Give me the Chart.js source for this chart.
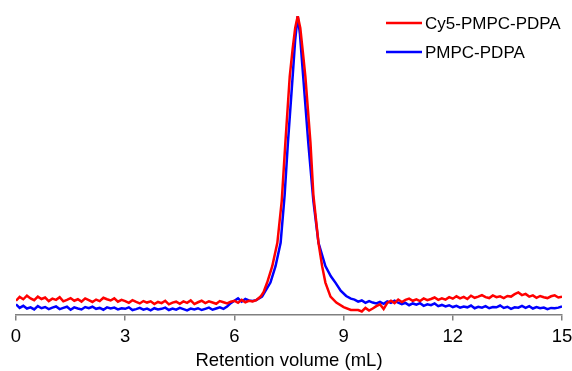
<!DOCTYPE html>
<html>
<head>
<meta charset="utf-8">
<script src="https://cdn.jsdelivr.net/npm/chart.js@4/dist/chart.umd.min.js"></script>
<style>
  html, body { margin: 0; padding: 0; background: #fff; }
  #wrap { width: 572px; height: 371px; position: relative; }
</style>
</head>
<body>
<div id="wrap"><canvas id="grafico" width="572" height="371"></canvas></div>
<script>
// Cy5-PMPC-PDPA (red)
const redVolume = [
  0.0, 0.1, 0.2, 0.3, 0.4, 0.5, 0.6, 0.7, 0.8, 0.9,
  1.0, 1.1, 1.2, 1.3, 1.4, 1.5, 1.6, 1.7, 1.8, 1.9,
  2.0, 2.1, 2.2, 2.3, 2.4, 2.5, 2.6, 2.7, 2.8, 2.9,
  3.0, 3.1, 3.2, 3.3, 3.4, 3.5, 3.6, 3.7, 3.8, 3.9,
  4.0, 4.1, 4.2, 4.3, 4.4, 4.5, 4.6, 4.7, 4.8, 4.9,
  5.0, 5.1, 5.2, 5.3, 5.4, 5.5, 5.6, 5.7, 5.8, 5.9,
  6.0, 6.1, 6.2, 6.3, 6.4, 6.5,
  6.6, 6.72, 6.8, 6.9, 7.04, 7.18, 7.3, 7.4, 7.52, 7.6, 7.67, 7.74,
  7.81, 7.88, 7.95, 8.09, 8.17, 8.31, 8.41, 8.5, 8.64, 8.8, 9.0, 9.2, 9.4,
  9.5, 9.6, 9.7, 9.8, 9.9,
  10.0, 10.1, 10.2, 10.3, 10.4, 10.5, 10.6, 10.7, 10.8, 10.9,
  11.0, 11.1, 11.2, 11.3, 11.4, 11.5, 11.6, 11.7, 11.8, 11.9,
  12.0, 12.1, 12.2, 12.3, 12.4, 12.5, 12.6, 12.7, 12.8, 12.9,
  13.0, 13.1, 13.2, 13.3, 13.4, 13.5, 13.6, 13.7, 13.8, 13.9,
  14.0, 14.1, 14.2, 14.3, 14.4, 14.5, 14.6, 14.7, 14.8, 14.9, 15.0
];
const redSignal = [
  4.6, 5.9, 5.1, 6.3, 5.4, 4.8, 6.0, 5.2, 5.7, 4.5,
  5.3, 4.9, 5.8, 4.4, 4.9, 5.5, 4.6, 5.1, 4.3, 5.4,
  4.8, 4.2, 5.0, 4.5, 5.6, 5.1, 4.7, 5.4, 4.3, 4.9,
  4.5, 3.9, 4.8, 4.2, 3.7, 4.5, 4.0, 4.4, 3.5, 4.2,
  3.8, 4.6, 3.4, 4.0, 4.3, 3.6, 4.4, 3.9, 4.7, 3.5,
  4.1, 4.6, 3.8, 4.4, 4.0, 3.6, 4.5, 4.1, 3.7, 4.3,
  4.6, 3.9, 4.9, 4.1, 4.6, 4.4,
  4.8, 6.0, 7.5, 10.7, 16.2, 24, 38, 57.5, 79.7, 89, 96, 100,
  96, 88, 79.7, 57.5, 40, 24, 16.2, 10.7, 6.0, 4.0, 2.5, 1.5, 1.5,
  1.0, 2.2, 1.3, 2.0, 2.8,
  3.4, 1.8, 3.9, 4.6, 3.8, 5.0, 4.2, 4.9, 5.3, 4.6,
  5.1, 4.5, 5.4, 4.8, 5.2, 5.7, 4.9, 5.4, 5.0, 5.8,
  5.3, 6.1, 5.4, 5.9, 5.2, 6.3, 5.6, 6.0, 6.5, 5.8,
  5.5, 6.4, 5.8, 6.1, 5.5, 6.2, 6.0, 6.8, 7.4, 6.5,
  6.9, 6.0, 6.4, 5.6, 6.2, 5.8, 5.5, 6.1, 6.4, 5.7, 6.0
];

// PMPC-PDPA (blue)
const blueVolume = [
  0.0, 0.1, 0.2, 0.3, 0.4, 0.5, 0.6, 0.7, 0.8, 0.9,
  1.0, 1.1, 1.2, 1.3, 1.4, 1.5, 1.6, 1.7, 1.8, 1.9,
  2.0, 2.1, 2.2, 2.3, 2.4, 2.5, 2.6, 2.7, 2.8, 2.9,
  3.0, 3.1, 3.2, 3.3, 3.4, 3.5, 3.6, 3.7, 3.8, 3.9,
  4.0, 4.1, 4.2, 4.3, 4.4, 4.5, 4.6, 4.7, 4.8, 4.9,
  5.0, 5.1, 5.2, 5.3, 5.4, 5.5, 5.6, 5.7, 5.8, 5.9,
  6.0, 6.1, 6.2, 6.3, 6.4, 6.5,
  6.6, 6.76, 6.99, 7.13, 7.27, 7.38, 7.47, 7.6, 7.67, 7.74,
  7.8, 7.89, 8.03, 8.17, 8.31, 8.5, 8.65, 8.78, 8.92, 9.07, 9.2,
  9.3, 9.4, 9.5, 9.6, 9.7, 9.8, 9.9,
  10.0, 10.1, 10.2, 10.3, 10.4, 10.5, 10.6, 10.7, 10.8, 10.9,
  11.0, 11.1, 11.2, 11.3, 11.4, 11.5, 11.6, 11.7, 11.8, 11.9,
  12.0, 12.1, 12.2, 12.3, 12.4, 12.5, 12.6, 12.7, 12.8, 12.9,
  13.0, 13.1, 13.2, 13.3, 13.4, 13.5, 13.6, 13.7, 13.8, 13.9,
  14.0, 14.1, 14.2, 14.3, 14.4, 14.5, 14.6, 14.7, 14.8, 14.9, 15.0
];
const blueSignal = [
  3.4, 2.2, 2.9, 2.0, 2.4, 1.7, 2.8, 2.1, 2.5, 1.8,
  2.3, 2.7, 1.8, 2.2, 2.6, 1.6, 2.4, 2.0, 1.7, 2.5,
  2.1, 2.6, 1.9, 2.2, 1.6, 2.4, 2.0, 2.3, 1.7, 2.1,
  1.9, 2.4, 1.5, 1.8, 2.2, 1.6, 2.0, 1.4, 2.1, 1.7,
  1.9, 2.3, 1.5, 2.0, 1.6, 2.2, 1.8, 1.4, 2.0, 1.7,
  2.1, 1.5, 1.9, 2.3, 1.6, 2.0, 2.4, 1.9, 2.7, 3.8,
  4.6, 5.4, 4.3, 5.2, 4.7, 4.5,
  4.8, 6.0, 10.7, 16.2, 24, 40, 57.5, 79.7, 92, 100,
  94, 79.7, 57.5, 38, 24, 16.2, 12.8, 10.6, 8.0, 6.2, 5.3,
  5.0, 4.3, 4.7, 3.9, 4.5, 4.0, 3.7,
  4.2, 3.6, 4.4, 3.9, 4.6, 4.0, 3.5, 3.9, 3.1, 3.7,
  3.3, 3.8, 2.9, 3.4, 3.1, 3.7, 2.8, 3.2, 2.7, 3.1,
  2.5, 2.9, 2.3, 2.7, 2.4, 3.0, 2.1, 2.6, 2.3, 2.8,
  2.1, 2.5, 2.4, 3.0, 2.2, 2.6, 1.9, 2.4, 2.3, 2.9,
  2.2, 2.8, 2.0, 2.5, 2.1, 2.3, 1.8, 2.2, 2.1, 2.3, 2.7
];

const xTicks = [0, 3, 6, 9, 12, 15];
const seriesNames = ["Cy5-PMPC-PDPA", "PMPC-PDPA"];
const seriesColors = ["#ff0000", "#0000ff"];

const FONT = "'Liberation Sans', Arial, sans-serif";

function toPoints(xs, ys) {
  return xs.map((x, i) => ({ x: x, y: ys[i] }));
}

// leyenda dibujada dentro del area, arriba a la derecha
const leyenda = {
  id: "leyenda",
  afterDraw(chart) {
    const ctx = chart.ctx;
    ctx.save();
    ctx.font = "17px " + FONT;
    ctx.textBaseline = "middle";
    ctx.fillStyle = "#000";
    chart.data.datasets.forEach((ds, i) => {
      const y = 23 + i * 29;
      ctx.strokeStyle = ds.borderColor;
      ctx.lineWidth = 2.5;
      ctx.beginPath();
      ctx.moveTo(386, y);
      ctx.lineTo(422, y);
      ctx.stroke();
      ctx.fillText(ds.label, 425, y + 1);
    });
    ctx.restore();
  }
};

new Chart(document.getElementById("grafico"), {
  type: "line",
  data: {
    datasets: [
      {
        label: seriesNames[0],
        data: toPoints(redVolume, redSignal),
        borderColor: seriesColors[0],
        borderWidth: 2.5,
        pointRadius: 0,
        tension: 0
      },
      {
        label: seriesNames[1],
        data: toPoints(blueVolume, blueSignal),
        borderColor: seriesColors[1],
        borderWidth: 2.5,
        pointRadius: 0,
        tension: 0
      }
    ]
  },
  options: {
    responsive: false,
    animation: false,
    layout: { padding: { left: 16, right: 10, top: 16, bottom: 0 } },
    plugins: {
      legend: { display: false },
      tooltip: { enabled: false }
    },
    scales: {
      x: {
        type: "linear",
        min: 0,
        max: 15,
        afterBuildTicks(axis) {
          axis.ticks = xTicks.map(v => ({ value: v }));
        },
        afterFit(axis) {
          // alto fijo del eje para que la linea quede donde en la figura
          axis.height = 56.5;
          axis.paddingLeft = 0;
          axis.paddingRight = 0;
        },
        grid: {
          drawOnChartArea: false,
          drawTicks: true,
          tickLength: 6,
          color: "#808080",
          lineWidth: 1.5
        },
        border: { display: true, color: "#808080", width: 1.5 },
        ticks: {
          color: "#000",
          padding: 5.5,
          font: { family: FONT, size: 18.5, lineHeight: 1.2 }
        },
        title: {
          display: true,
          text: "Retention volume (mL)",
          color: "#000",
          padding: { top: 0, bottom: 0 },
          font: { family: FONT, size: 18.5, lineHeight: 1.1 }
        }
      },
      y: {
        display: false,
        min: 0,
        max: 100
      }
    }
  },
  plugins: [leyenda]
});
</script>
</body>
</html>
